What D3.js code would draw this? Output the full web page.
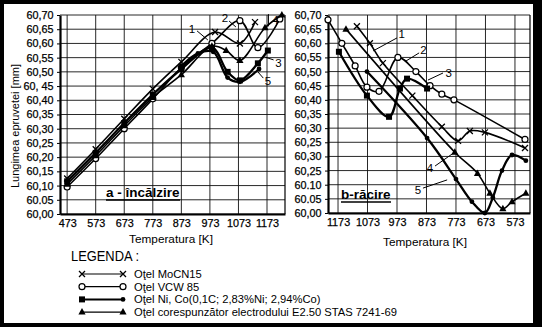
<!DOCTYPE html>
<html><head><meta charset="utf-8">
<script src="https://cdn.jsdelivr.net/npm/d3@7"></script>
<style>
html,body{margin:0;padding:0;background:#000}
svg{display:block}
text{font-family:"Liberation Sans",Arial,sans-serif;fill:#000}
</style>
</head><body>
<svg id="chart" width="542" height="327"></svg>
<script>
// ---- Tick labels ----
const yTickValues = [60.00,60.05,60.10,60.15,60.20,60.25,60.30,60.35,60.40,60.45,60.50,60.55,60.60,60.65,60.70];
const yLabelsHeat = ["60,00","60.05","60,10","60,15","60,20","60,25","60,30","60,35","60,40","60, 45","60,50","60,55","60,60","60,65","60,70"];
const yLabelsCool = ["60,00","60.05","60.10","60,25","60,30","60,25","60,30","60,35","60,40","60,45","60,50","60,55","60,60","60,65","60,70"];
const heatTicks = [473,573,673,773,873,973,1073,1173];
const coolTicks = [1173,1073,973,873,773,673,573];

// ---- a - heating: temperature [K] / specimen length [mm] ----
const heatK1 = [473,573,673,773,873,991,1078,1131];
const heatL1 = [60.125,60.228,60.335,60.44,60.535,60.64,60.60,60.675];
const heatK2 = [473,573,673,773,873,980,1078,1141,1218];
const heatL2 = [60.095,60.195,60.30,60.405,60.515,60.60,60.68,60.585,60.686];
const heatK3 = [473,573,673,773,873,980,1035,1078,1141,1176];
const heatL3 = [60.115,60.215,60.32,60.42,60.51,60.585,60.50,60.47,60.53,60.575];
const heatK4 = [473,573,673,773,873,980,1030,1078,1166,1225];
const heatL4 = [60.105,60.205,60.31,60.41,60.49,60.59,60.575,60.54,60.655,60.70];
const heatK5 = [873,931,985,1035,1078,1145];
const heatL5 = [60.52,60.565,60.57,60.48,60.465,60.51];

// ---- b - cooling ----
const coolK1 = [1109,1065,1021,921,821,766,726,675,539];
const coolL1 = [60.66,60.60,60.53,60.415,60.305,60.255,60.29,60.285,60.23];
const coolK2 = [1207,1160,1115,1075,1034,970,909,861,821,780,539];
const coolL2 = [60.683,60.60,60.52,60.445,60.43,60.55,60.50,60.45,60.42,60.40,60.26];
const coolK3 = [1170,1075,1000,963,939,871];
const coolL3 = [60.57,60.415,60.34,60.44,60.475,60.44];
const coolK4 = [1146,777,700,658,614,583,536];
const coolL4 = [60.65,60.215,60.14,60.07,60.015,60.04,60.07];
const coolK5 = [1075,871,773,719,675,648,617,583,536];
const coolL5 = [60.50,60.265,60.12,60.04,60.00,60.055,60.15,60.205,60.185];

const markerTypes = ["cross","ring","square","triangle","dot"];
const legendNames = [
  "O\u0163el MoCN15",
  "O\u0163el VCW 85",
  "O\u0163el Ni, Co(0,1C; 2,83%Ni; 2,94%Co)",
  "O\u0163el corespunz\u0103tor electrodului E2.50 STAS 7241-69"
];

const svg = d3.select("#chart");
svg.append("rect").attr("x",4).attr("y",4).attr("width",529).attr("height",319).attr("fill","#fff");

function zip(ks, ls){ return ks.map((k,i)=>({k:k, v:ls[i]})); }

function marker(g, type, px, py){
  if(type==="cross"){
    g.append("path").attr("d",`M${px-3},${py-3}L${px+3},${py+3}M${px-3},${py+3}L${px+3},${py-3}`)
      .attr("stroke","#000").attr("stroke-width",1.3).attr("fill","none");
  } else if(type==="ring"){
    g.append("circle").attr("cx",px).attr("cy",py).attr("r",3).attr("fill","#fff").attr("stroke","#000").attr("stroke-width",1.2);
  } else if(type==="square"){
    g.append("rect").attr("x",px-3).attr("y",py-3).attr("width",6).attr("height",6).attr("fill","#000");
  } else if(type==="triangle"){
    g.append("path").attr("d",`M${px},${py-4}L${px+3.6},${py+2.5}L${px-3.6},${py+2.5}Z`).attr("fill","#000");
  } else {
    g.append("circle").attr("cx",px).attr("cy",py).attr("r",2.4).attr("fill","#000");
  }
}

function panel(opt){
  const g = svg.append("g");
  const x = opt.x, y = opt.y;
  const [x0,x1] = x.range(), [y0,y1] = y.range();
  // grid
  g.selectAll(".hg").data(yTickValues).join("line")
    .attr("x1",x0).attr("x2",x1).attr("y1",d=>y(d)).attr("y2",d=>y(d))
    .attr("stroke","#111").attr("stroke-width",0.9);
  g.selectAll(".vg").data(opt.ticks).join("line")
    .attr("x1",d=>x(d)).attr("x2",d=>x(d)).attr("y1",y0).attr("y2",y1)
    .attr("stroke","#111").attr("stroke-width",0.9);
  g.append("line").attr("x1",x1).attr("x2",x1).attr("y1",y0).attr("y2",y1).attr("stroke","#000").attr("stroke-width",1.2);
  // axes
  const ya = d3.axisLeft(y).tickValues(yTickValues).tickSize(3).tickSizeOuter(0)
    .tickFormat((d,i)=>opt.yLabels[i]);
  const yg = g.append("g").attr("transform",`translate(${x0},0)`).call(ya);
  yg.select(".domain").attr("stroke-width",2.2);
  yg.selectAll("text").attr("font-size",10.8).attr("dx",-0.5);
  const xa = d3.axisBottom(x).tickValues(opt.ticks).tickSize(0).tickSizeOuter(0).tickFormat(d=>d);
  const xg = g.append("g").attr("transform",`translate(0,${y0})`).call(xa);
  xg.select(".domain").attr("stroke-width",2.2);
  xg.selectAll("text").attr("font-size",10.8).attr("dy","0.95em");
  g.selectAll(".tick text").attr("fill","#000").attr("stroke","#000").attr("stroke-width",0.25);
  g.selectAll(".tick line").attr("stroke","#000");
  // series
  const line = d3.line().x(d=>x(d.k)).y(d=>y(d.v)).curve(d3.curveCatmullRom.alpha(0.5));
  opt.series.forEach((s,i)=>{
    const pts = zip(s[0], s[1]);
    g.append("path").datum(pts).attr("d",line).attr("fill","none")
      .attr("stroke","#000").attr("stroke-width", (i===2||i===4)?2.3:1.6);
    pts.forEach(p=>marker(g, markerTypes[i], x(p.k), y(p.v)));
  });
  // curve numbers with leaders
  opt.notes.forEach(n=>{
    if(n.lead) g.append("line").attr("x1",x(n.lead[0])).attr("y1",y(n.lead[1]))
      .attr("x2",x(n.lead[2])).attr("y2",y(n.lead[3])).attr("stroke","#000").attr("stroke-width",1);
    g.append("text").attr("x",x(n.k)).attr("y",y(n.v)).attr("font-size",11.5)
      .attr("text-anchor","middle").attr("dominant-baseline","central").text(n.t);
  });
  // panel title
  const t = g.append("text").attr("x",opt.title.x).attr("y",opt.title.y)
    .attr("font-size",opt.title.size).attr("font-weight","bold").text(opt.title.t);
  const bb = t.node().getBBox();
  g.append("line").attr("x1",bb.x).attr("x2",bb.x+bb.width).attr("y1",opt.title.y+3).attr("y2",opt.title.y+3)
    .attr("stroke","#000").attr("stroke-width",1.6);
  g.append("text").attr("x",opt.xTitle.x).attr("y",opt.xTitle.y).attr("font-size",11.8)
    .attr("text-anchor","middle").text("Temperatura [K]");
  return g;
}

const xHeat = d3.scaleLinear().domain([448,1236]).range([60,285]);
const yHeat = d3.scaleLinear().domain([60,60.7]).range([214,15]);
const xCool = d3.scaleLinear().domain([1207,522]).range([328,530]);
const yCool = d3.scaleLinear().domain([60,60.7]).range([213,15]);

panel({
  x:xHeat, y:yHeat, ticks:heatTicks, yLabels:yLabelsHeat,
  series:[[heatK1,heatL1],[heatK2,heatL2],[heatK3,heatL3],[heatK4,heatL4],[heatK5,heatL5]],
  notes:[
    {t:"1",k:910,v:60.651,lead:[928,60.644,966,60.612]},
    {t:"2",k:1026,v:60.689,lead:[1040,60.679,1064,60.658]},
    {t:"4",k:1203,v:60.682,lead:[1178,60.703,1178,60.66]},
    {t:"3",k:1213,v:60.531,lead:[1166,60.552,1196,60.542]},
    {t:"5",k:1176,v:60.468,lead:[1141,60.5,1160,60.478]}
  ],
  title:{t:"a - \u00eenc\u0103lzire",x:106,y:197,size:13.5},
  xTitle:{x:171,y:243}
});

panel({
  x:xCool, y:yCool, ticks:coolTicks, yLabels:yLabelsCool,
  series:[[coolK1,coolL1],[coolK2,coolL2],[coolK3,coolL3],[coolK4,coolL4],[coolK5,coolL5]],
  notes:[
    {t:"1",k:957,v:60.633,lead:[973,60.619,1054,60.573]},
    {t:"2",k:883,v:60.576,lead:[898,60.566,943,60.537]},
    {t:"3",k:798,v:60.495,lead:[817,60.495,868,60.47]},
    {t:"4",k:861,v:60.16,lead:[844,60.166,776,60.216]},
    {t:"5",k:902,v:60.08,lead:[885,60.088,803,60.117]}
  ],
  title:{t:"b-r\u0103cire",x:341,y:199,size:13.5},
  xTitle:{x:425,y:246}
});

// y title
svg.append("text").attr("transform","translate(19,126) rotate(-90)")
  .attr("text-anchor","middle").attr("font-size",11).text("Lungimea epruvetei [mm]");

// legend
const lg = svg.append("g");
lg.append("text").attr("x",71).attr("y",261).attr("font-size",15.5)
  .attr("textLength",68).attr("lengthAdjust","spacingAndGlyphs").text("LEGENDA :");
const legendMarks = [["cross","cross"],["ring","ring"],["square","dot"],["triangle","triangle"]];
legendNames.forEach((name,i)=>{
  const yy = 274 + i*12.7;
  lg.append("line").attr("x1",82).attr("x2",123).attr("y1",yy).attr("y2",yy)
    .attr("stroke","#000").attr("stroke-width", i===2?2:1.2);
  marker(lg, legendMarks[i][0], 82, yy);
  marker(lg, legendMarks[i][1], 123, yy);
  lg.append("text").attr("x",134).attr("y",yy+4).attr("font-size",11.2).text(name);
});
</script>
</body></html>
